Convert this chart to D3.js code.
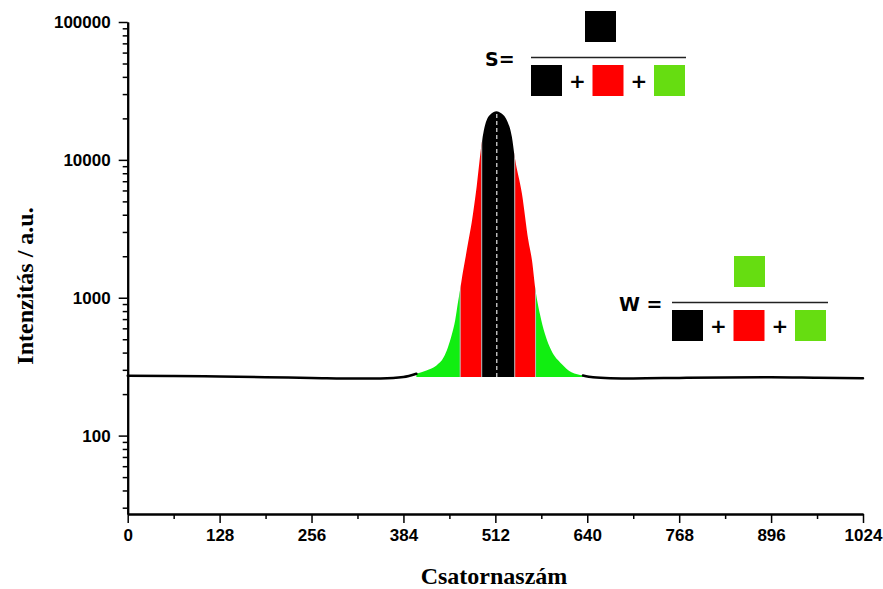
<!DOCTYPE html>
<html>
<head>
<meta charset="utf-8">
<script src="https://cdn.jsdelivr.net/npm/d3@7"></script>
<style>
  html, body { margin: 0; padding: 0; background: #fff; }
  svg { display: block; }
</style>
</head>
<body>
<svg id="chart" width="883" height="589"></svg>
<script>
// ---- data ----
const channels = [0, 64, 128, 192, 256, 320, 352, 384, 402, 416, 430, 440, 446, 451, 456, 460, 463, 466, 470, 474, 479, 486, 493, 496, 504, 514, 519, 528, 535, 539, 549, 558, 563, 568, 574, 581, 590, 604, 618, 634, 648, 672, 704, 768, 832, 896, 960, 1024];
const intensities = [272, 271, 268, 265, 262, 259, 260, 266, 281, 297, 323, 370, 438, 532, 685, 930, 1150, 1450, 1900, 2500, 3500, 6400, 13200, 16400, 21100, 22500, 22000, 19400, 14700, 10500, 5700, 2600, 1870, 1130, 766, 548, 414, 332, 288, 273, 265, 261, 260, 262, 264, 265, 263, 261];
const bandEdges = [402, 463, 493, 539, 568, 634];          // green | red | black | red | green
const bandColors = ["#11ee11", "#ff0000", "#000000", "#ff0000", "#11ee11"];
const fillBase = 266;        // flat bottom of the coloured area
const peakCenter = 514;      // dashed centre line
const xMajor = [0, 128, 256, 384, 512, 640, 768, 896, 1024];
const xMinor = [64, 192, 320, 448, 576, 704, 832, 960];
const yMajor = [100, 1000, 10000, 100000];
const yMinor = [30, 40, 50, 60, 70, 80, 90, 200, 300, 400, 500, 600, 700, 800, 900,
                2000, 3000, 4000, 5000, 6000, 7000, 8000, 9000,
                20000, 30000, 40000, 50000, 60000, 70000, 80000, 90000];
const xTitle = "Csatornaszám";
const yTitle = "Intenzitás / a.u.";

// ---- layout ----
const svg = d3.select("#chart");
const x = d3.scaleLinear().domain([0, 1024]).range([127.7, 863]);
const y = d3.scaleLog().domain([27, 100000]).range([514, 22]);

const pts = channels.map((c, i) => ({ c, v: intensities[i] }));

// coloured bands (area clipped to band ranges)
const area = d3.area()
  .x(d => x(d.c))
  .y0(y(fillBase))
  .y1(d => y(d.v))
  .curve(d3.curveMonotoneX);
const peakPts = pts.filter(d => d.c >= bandEdges[0] - 20 && d.c <= bandEdges[5] + 20);

const defs = svg.append("defs");
defs.append("clipPath").attr("id", "areaClip")
  .append("path").attr("d", area(peakPts));
for (let i = 0; i < 5; i++) {
  defs.append("clipPath").attr("id", "band" + i)
    .append("rect")
    .attr("x", x(bandEdges[i])).attr("y", 0)
    .attr("width", x(bandEdges[i + 1]) - x(bandEdges[i]))
    .attr("height", 589);
}
const bandsG = svg.append("g");
for (let i = 0; i < 5; i++) {
  bandsG.append("path")
    .attr("d", area(peakPts))
    .attr("fill", bandColors[i])
    .attr("clip-path", `url(#band${i})`);
}
// thin separators between bands
const sepG = svg.append("g").attr("clip-path", "url(#areaClip)");
sepG.selectAll("line").data(bandEdges.slice(1, 5)).join("line")
  .attr("x1", d => x(d)).attr("x2", d => x(d))
  .attr("y1", y(fillBase)).attr("y2", 0)
  .attr("stroke", "#b8b8b8").attr("stroke-width", 1);
// dashed centre line
sepG.append("line")
  .attr("x1", x(peakCenter)).attr("x2", x(peakCenter))
  .attr("y1", y(fillBase)).attr("y2", 0)
  .attr("stroke", "#e6e6e6").attr("stroke-width", 1.2)
  .attr("stroke-dasharray", "4,3");

// spectrum line outside the coloured region
const line = d3.line().x(d => x(d.c)).y(d => y(d.v)).curve(d3.curveMonotoneX);
const leftPart = pts.filter(d => d.c <= bandEdges[0]);
const rightPart = pts.filter(d => d.c >= bandEdges[5]);
[leftPart, rightPart].forEach(p => {
  svg.append("path").attr("d", line(p))
    .attr("fill", "none").attr("stroke", "#000").attr("stroke-width", 2.5)
    .attr("stroke-linecap", "round");
});

// ---- axes ----
const tickFont = "'Liberation Sans', Arial, sans-serif";
const formulaFont = "'DejaVu Sans', sans-serif";
function styleAxis(g) {
  g.select(".domain").attr("stroke", "#000").attr("stroke-width", 2);
  g.selectAll(".tick line").attr("stroke", "#000").attr("stroke-width", 1.5);
  g.selectAll(".tick text")
    .attr("fill", "#000")
    .style("font-family", tickFont)
    .style("font-weight", "bold")
    .style("font-size", "17px");
}
const yAxisMinor = svg.append("g").attr("transform", `translate(${x(0)},0)`)
  .call(d3.axisLeft(y).tickValues(yMinor).tickSize(5).tickSizeOuter(0).tickFormat(""));
styleAxis(yAxisMinor);
const yAxisMajor = svg.append("g").attr("transform", `translate(${x(0)},0)`)
  .call(d3.axisLeft(y).tickValues(yMajor).tickSize(9).tickSizeOuter(0).tickPadding(8)
    .tickFormat(d3.format("d")));
styleAxis(yAxisMajor);

const xAxisMinor = svg.append("g").attr("transform", `translate(0,${y(27)})`)
  .call(d3.axisBottom(x).tickValues(xMinor).tickSize(5).tickSizeOuter(0).tickFormat(""));
styleAxis(xAxisMinor);
const xAxisMajor = svg.append("g").attr("transform", `translate(0,${y(27)})`)
  .call(d3.axisBottom(x).tickValues(xMajor).tickSize(9).tickSizeOuter(0).tickPadding(6)
    .tickFormat(d3.format("d")));
styleAxis(xAxisMajor);

// axis titles
const titleFont = "'Liberation Serif', 'Times New Roman', serif";
svg.append("text")
  .attr("x", 494).attr("y", 584)
  .attr("text-anchor", "middle")
  .style("font-family", titleFont).style("font-weight", "bold").style("font-size", "24px")
  .text(xTitle);
svg.append("text")
  .attr("transform", "translate(33,286) rotate(-90)")
  .attr("text-anchor", "middle")
  .style("font-family", titleFont).style("font-weight", "bold").style("font-size", "24px")
  .text(yTitle);

// ---- formula annotations ----
const fGreen = "#66dd11";
function formula(g, opts) {
  const sq = 31;
  g.append("text")
    .attr("x", opts.labelX).attr("y", opts.lineY + 8)
    .style("font-family", formulaFont).style("font-weight", "bold").style("font-size", "19px")
    .text(opts.label);
  g.append("rect").attr("x", opts.topX).attr("y", opts.lineY - 46.5)
    .attr("width", sq).attr("height", sq).attr("fill", opts.topColor);
  g.append("line").attr("x1", opts.x0).attr("x2", opts.x1)
    .attr("y1", opts.lineY).attr("y2", opts.lineY)
    .attr("stroke", "#222").attr("stroke-width", 1.3);
  const by = opts.lineY + 7.5;
  const cols = ["#000", "#ff0000", fGreen];
  const step = 61.5;
  cols.forEach((c, i) => {
    g.append("rect").attr("x", opts.x0 + i * step).attr("y", by)
      .attr("width", sq).attr("height", sq).attr("fill", c);
    if (i < 2) {
      g.append("text")
        .attr("x", opts.x0 + i * step + sq + 15.5).attr("y", by + sq / 2 + 7)
        .attr("text-anchor", "middle")
        .style("font-family", formulaFont).style("font-weight", "bold").style("font-size", "20px")
        .text("+");
    }
  });
}
formula(svg.append("g"), { label: "S=", labelX: 485, lineY: 57.5, topX: 585, topColor: "#000", x0: 531, x1: 686 });
formula(svg.append("g"), { label: "W =", labelX: 619, lineY: 302.5, topX: 734, topColor: fGreen, x0: 672, x1: 828 });
</script>
</body>
</html>
